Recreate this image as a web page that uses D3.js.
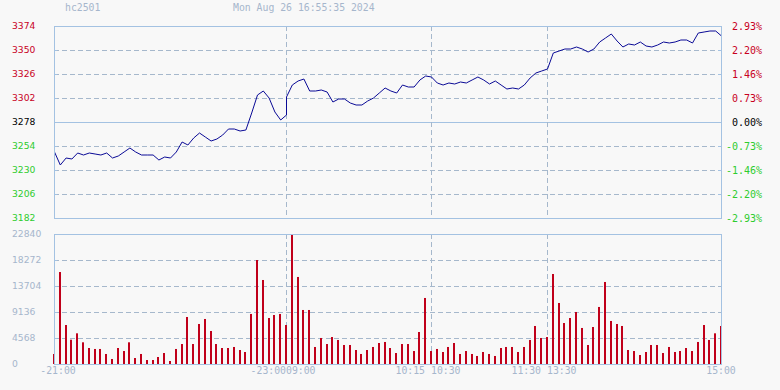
<!DOCTYPE html>
<html>
<head>
<meta charset="utf-8">
<script src="https://cdn.jsdelivr.net/npm/d3@7"></script>
<style>
  body { margin: 0; background: #f8f8f8; }
  svg { display: block; }
</style>
</head>
<body>
<div id="chart"></div>
<script>
// header texts
var symbol = "hc2501";
var stamp = "Mon Aug 26 16:55:35 2024";
var prevClose = 3278;

// axis labels
var priceTicks = [3374, 3350, 3326, 3302, 3278, 3254, 3230, 3206, 3182];
var pctTicks = ["2.93%", "2.20%", "1.46%", "0.73%", "0.00%", "-0.73%", "-1.46%", "-2.20%", "-2.93%"];
var volTicks = [22840, 18272, 13704, 9136, 4568, 0];
var timeLabels = ["-21:00", "-23:00", "09:00", "10:15", "10:30", "11:30", "13:30", "15:00"];
var timeSlots = [0, 40, 40, 65, 65, 85, 85, 115];
var sessionBreaks = [40, 65, 85];

// night session 21:00-23:00, one point every 3 minutes (slots 0..40)
var nightPrices = [3248, 3235, 3242, 3241, 3247, 3245, 3247, 3246, 3245, 3247,
  3242, 3244, 3248, 3252, 3248, 3245, 3245, 3245, 3240, 3243,
  3242, 3248, 3258, 3255, 3262, 3267, 3263, 3259, 3261, 3265,
  3271, 3271, 3269, 3270, 3287, 3305, 3309, 3302, 3288, 3280, 3285];

// day session 09:00-15:00 (slots 40..115)
var dayPrices = [3303, 3315, 3319, 3321, 3309, 3309, 3310, 3308, 3298, 3301,
  3301, 3297, 3295, 3295, 3299, 3302, 3307, 3312, 3309, 3307,
  3315, 3313, 3313, 3320, 3324, 3323, 3317, 3315, 3317, 3316,
  3318, 3317, 3320, 3323, 3320, 3316, 3319, 3315, 3311, 3312,
  3311, 3315, 3322, 3327, 3329, 3331, 3347, 3349, 3351, 3351,
  3353, 3351, 3348, 3351, 3358, 3362, 3366, 3359, 3353, 3356,
  3355, 3358, 3354, 3353, 3355, 3358, 3357, 3358, 3360, 3360,
  3357, 3367, 3368, 3369, 3369, 3364];

// volume per slot (0..115)
var volumes = [1760, 16160, 6850, 4270, 5390, 3810, 2810, 2640, 2640, 1760,
  880, 2810, 2280, 3810, 1050, 1760, 700, 700, 1230, 1930,
  530, 2640, 3510, 8260, 3510, 7030, 7910, 5800, 3510, 2810,
  2810, 2990, 2460, 2110, 8790, 18270, 14760, 8080, 8610, 8790,
  6850, 22840, 15290, 9490, 9490, 2990, 4570, 3510, 4740, 4220,
  3340, 3340, 2460, 1760, 2460, 2990, 3690, 3870, 2810, 1930,
  3510, 3510, 2280, 5620, 11600, 2280, 2640, 2110, 2990, 3690,
  1760, 2280, 1760, 1410, 2110, 1760, 1410, 2810, 2990, 2990,
  2110, 2990, 4220, 6680, 4570, 4740, 15810, 10720, 7200, 8080,
  9140, 6330, 3340, 6500, 10020, 14410, 7560, 7030, 6680, 2460,
  2280, 1580, 2110, 3340, 3340, 1930, 2990, 2110, 2280, 2810,
  2280, 3870, 6850, 4220, 5390, 6680];

var W = 780, H = 390;
var frame = "#a4c2e2", grid = "#a6b8cc", soft = "#a6b6cc";
var up = "#c8001e", down = "#2ecc2e";
var mono = "'DejaVu Sans Mono', monospace", sans = "'DejaVu Sans', sans-serif";

var svg = d3.select("#chart").append("svg")
  .attr("width", W).attr("height", H)
  .style("background", "#f8f8f8");

var x = d3.scaleLinear().domain([0, 115]).range([54, 721]);
var y = d3.scaleLinear().domain([3182, 3374]).range([218, 26]);
var yv = d3.scaleLinear().domain([0, 22840]).range([364, 234]);

function px(v) { return Math.round(v) + 0.5; }

// header
svg.append("text").attr("x", 65).attr("y", 11).text(symbol)
  .style("font-family", mono).style("font-size", "9.8px").attr("fill", soft);
svg.append("text").attr("x", 233).attr("y", 11).text(stamp)
  .style("font-family", mono).style("font-size", "9.8px").attr("fill", soft);

// price panel grid
priceTicks.forEach(function(t) {
  if (t == 3374 || t == 3182) return;
  svg.append("line")
    .attr("x1", x(0)).attr("x2", x(115))
    .attr("y1", px(y(t))).attr("y2", px(y(t)))
    .attr("stroke", t == prevClose ? frame : grid)
    .attr("stroke-dasharray", t == prevClose ? null : "5,3");
});
volTicks.forEach(function(t) {
  if (t == 22840 || t == 0) return;
  svg.append("line")
    .attr("x1", x(0)).attr("x2", x(115))
    .attr("y1", px(yv(t))).attr("y2", px(yv(t)))
    .attr("stroke", grid).attr("stroke-dasharray", "5,3");
});
sessionBreaks.forEach(function(s) {
  [[y(3374), y(3182)], [yv(22840), yv(0)]].forEach(function(r) {
    svg.append("line")
      .attr("x1", px(x(s))).attr("x2", px(x(s)))
      .attr("y1", r[0]).attr("y2", r[1])
      .attr("stroke", grid).attr("stroke-dasharray", "5,3");
  });
});

// small ticks on panel borders
priceTicks.forEach(function(t) {
  svg.append("line").attr("x1", x(0)).attr("x2", x(0) + 3)
    .attr("y1", px(y(t))).attr("y2", px(y(t))).attr("stroke", frame);
  svg.append("line").attr("x1", x(115) - 3).attr("x2", x(115))
    .attr("y1", px(y(t))).attr("y2", px(y(t))).attr("stroke", frame);
});
volTicks.forEach(function(t) {
  svg.append("line").attr("x1", x(0)).attr("x2", x(0) + 3)
    .attr("y1", px(yv(t))).attr("y2", px(yv(t))).attr("stroke", frame);
});

// volume bars
svg.append("g").selectAll("rect")
  .data(volumes)
  .enter().append("rect")
    .attr("x", function(d, i) { return Math.round(x(i)) - 1; })
    .attr("width", 2)
    .attr("y", function(d) { return yv(d); })
    .attr("height", function(d) { return yv(0) - yv(d); })
    .attr("fill", "#c0001a");

// price line: previous close, night session, day session
var pts = [{ i: 0, p: prevClose }];
nightPrices.forEach(function(p, k) { pts.push({ i: k, p: p }); });
dayPrices.forEach(function(p, k) { pts.push({ i: 40 + k, p: p }); });

svg.append("path")
  .datum(pts)
  .attr("fill", "none")
  .attr("stroke", "#0a0a96")
  .attr("stroke-width", 1)
  .attr("d", d3.line()
    .x(function(d) { return x(d.i) + 0.5; })
    .y(function(d) { return y(d.p); })
  );

// panel frames
svg.append("rect").attr("x", px(x(0))).attr("y", px(y(3374)))
  .attr("width", Math.round(x(115) - x(0))).attr("height", Math.round(y(3182) - y(3374)))
  .attr("fill", "none").attr("stroke", frame);
svg.append("rect").attr("x", px(x(0))).attr("y", px(yv(22840)))
  .attr("width", Math.round(x(115) - x(0))).attr("height", Math.round(yv(0) - yv(22840)))
  .attr("fill", "none").attr("stroke", frame);

// left price labels
function tone(k) { return k < 4 ? up : (k == 4 ? "#000" : down); }
priceTicks.forEach(function(t, k) {
  svg.append("text").attr("x", 12).attr("y", y(t)).attr("dy", "0.35em")
    .text(t).style("font-family", sans).style("font-size", "9.2px")
    .attr("fill", tone(k));
});
// right percent labels
pctTicks.forEach(function(t, k) {
  svg.append("text").attr("x", 762).attr("y", y(priceTicks[k])).attr("dy", "0.35em")
    .attr("text-anchor", "end")
    .text(t).style("font-family", mono).style("font-size", "10px")
    .attr("fill", tone(k));
});
// volume labels
volTicks.forEach(function(t) {
  svg.append("text").attr("x", 12).attr("y", yv(t)).attr("dy", "0.35em")
    .text(t).style("font-family", sans).style("font-size", "9.2px")
    .attr("fill", soft);
});

// time labels
var anchors = ["middle", "end", "start", "end", "start", "end", "start", "middle"];
var shifts = [4, 0, 0, -6, 0, -6, 0, 0];
timeLabels.forEach(function(t, k) {
  svg.append("text").attr("x", x(timeSlots[k]) + shifts[k]).attr("y", 374)
    .attr("text-anchor", anchors[k])
    .text(t).style("font-family", mono).style("font-size", "9.8px")
    .attr("fill", soft);
});
</script>
</body>
</html>
